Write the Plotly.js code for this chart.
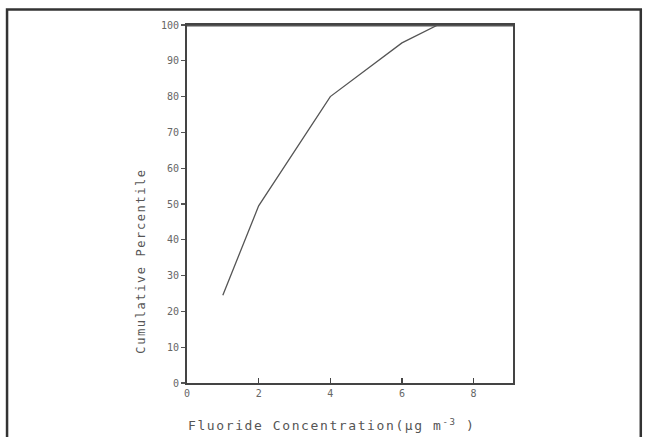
<!DOCTYPE html>
<html>
<head>
<meta charset="utf-8">
<script src="https://cdn.plot.ly/plotly-3.0.1.min.js"></script>
<style>
html,body{margin:0;padding:0;background:#fff;}
#chart{width:649px;height:437px;}
.annotation-text{letter-spacing:1.6px;}
.annotation:nth-of-type(2) .annotation-text{letter-spacing:2.1px;}
</style>
</head>
<body>
<div id="chart"></div>
<script>
const concentration = [1, 2, 4, 6, 7];
const cumulativePercentile = [24.5, 49.5, 80, 95, 100];
const xTickVals = [0, 2, 4, 6, 8];
const xTickText = ['0', '2', '4', '6', '8'];
const yTickVals = [0, 10, 20, 30, 40, 50, 60, 70, 80, 90, 100];
const yTickText = ['0', '10', '20', '30', '40', '50', '60', '70', '80', '90', '100'];

const trace = {
  x: concentration,
  y: cumulativePercentile,
  type: 'scatter',
  mode: 'lines',
  line: {color: '#555', width: 1.3},
  hoverinfo: 'skip'
};

const layout = {
  width: 649,
  height: 437,
  margin: {l: 187, r: 136, t: 25, b: 54},
  paper_bgcolor: '#fff',
  plot_bgcolor: '#fff',
  showlegend: false,
  font: {family: 'DejaVu Sans Mono, monospace', color: '#555', size: 10},
  xaxis: {
    range: [0, 9.1],
    tickvals: xTickVals,
    ticktext: xTickText,
    ticks: 'inside',
    ticklen: 5,
    tickwidth: 1.5,
    tickcolor: '#444',
    showline: true,
    linecolor: '#444',
    linewidth: 2,
    mirror: true,
    showgrid: false,
    zeroline: false,
    tickfont: {size: 10, color: '#666'}
  },
  yaxis: {
    range: [0, 100],
    tickvals: yTickVals,
    ticktext: yTickText,
    ticks: 'outside',
    ticklen: 4,
    tickwidth: 1.2,
    tickcolor: '#555',
    showline: true,
    linecolor: '#444',
    linewidth: 2,
    mirror: true,
    showgrid: false,
    zeroline: false,
    tickfont: {size: 10, color: '#666'}
  },
  annotations: [{
    text: 'Cumulative Percentile',
    xref: 'paper', yref: 'paper',
    x: -0.14, y: 0.34,
    xanchor: 'center', yanchor: 'middle',
    textangle: -90,
    showarrow: false,
    font: {size: 12, color: '#555'}
  }, {
    text: 'Fluoride Concentration(μg m<sup>-3</sup> )',
    xref: 'paper', yref: 'paper',
    x: 0.445, y: -0.117,
    xanchor: 'center', yanchor: 'middle',
    showarrow: false,
    font: {size: 13, color: '#555'}
  }],
  shapes: [
    {type: 'line', xref: 'paper', yref: 'y', x0: 0, x1: 1, y0: 100, y1: 100, line: {color: '#555', width: 3}},
    {type: 'path', xref: 'paper', yref: 'paper',
     path: 'M -0.552,-0.2 L -0.552,1.043 L 1.392,1.043 L 1.392,-0.2',
     line: {color: '#333', width: 2.5}}
  ]
};

Plotly.newPlot('chart', [trace], layout, {displayModeBar: false, staticPlot: true});
</script>
</body>
</html>
